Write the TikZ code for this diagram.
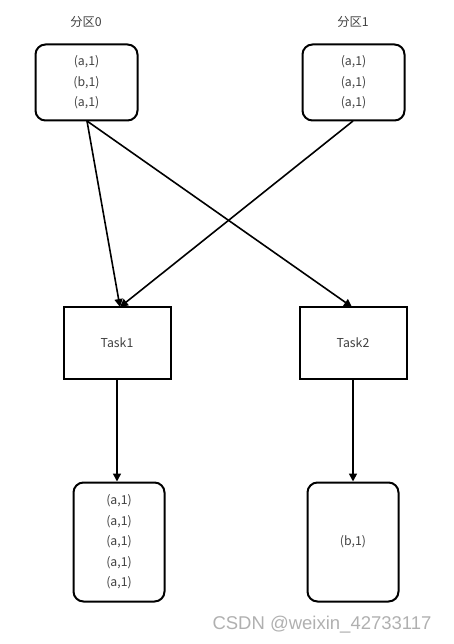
\documentclass[tikz,border=0pt]{standalone}
\usepackage{fontspec}
\setmainfont{Noto Sans CJK SC}
\usetikzlibrary{arrows.meta}
\definecolor{txt}{HTML}{404040}
\definecolor{wm}{HTML}{B0B0B0}
\begin{document}
\begin{tikzpicture}[x=1pt,y=-1pt,
  every node/.style={text=txt,font=\fontsize{12.3}{20.5}\selectfont,inner sep=0pt},
  rbox/.style={draw=black,line width=2pt,rounded corners=10pt,align=center},
  tbox/.style={draw=black,line width=2pt,minimum width=107pt,minimum height=72pt},
  conn/.style={line width=1.6pt,-{Triangle[length=8pt,width=8pt]}}]
\useasboundingbox (0,0) rectangle (454,644);
\node (l0) at (86,22) {分区0};
\node (l1) at (353,22) {分区1};
\node[rbox,minimum width=102pt,minimum height=76pt] (p0) at (86.5,82.5) {(a,1)\\(b,1)\\(a,1)};
\node[rbox,minimum width=102pt,minimum height=76pt] (p1) at (353.5,82.5) {(a,1)\\(a,1)\\(a,1)};
\node[tbox] (t1) at (117,343) {Task1};
\node[tbox] (t2) at (353,343) {Task2};
\node[rbox,minimum width=91pt,minimum height=119pt] (o1) at (119,542) {(a,1)\\(a,1)\\(a,1)\\(a,1)\\(a,1)};
\node[rbox,minimum width=91pt,minimum height=119pt] (o2) at (353,542) {(b,1)};
\coordinate (p0s) at (87,121);
\coordinate (p1s) at (353,121);
\coordinate (t1n) at (120,307);
\coordinate (t2n) at (352,307);
\draw[conn] (p0s) -- (t1n);
\draw[conn] (p0s) -- (t2n);
\draw[conn] (p1s) -- (t1n);
\draw[conn] (t1.south -| o1.north) ++(-2,0) coordinate (t1s) -- (t1s |- o1.north);
\draw[conn] (t2.south) -- (t2.south |- o2.north);
\node[text=wm,font=\fontsize{18.5}{18.5}\selectfont\fontspec{Liberation Sans}] (wmk) at (322,625) {CSDN @weixin\_42733117};
\end{tikzpicture}
\end{document}
